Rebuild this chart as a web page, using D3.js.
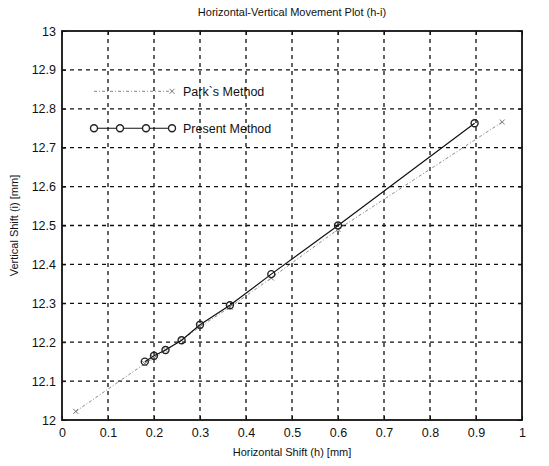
<!DOCTYPE html>
<html>
<head>
<meta charset="utf-8">
<script src="https://cdn.jsdelivr.net/npm/d3@7"></script>
<style>
  body { margin: 0; background: #fff; }
  text { font-family: "Liberation Sans", Arial, sans-serif; fill: #111; }
  .grid line { stroke: #111; stroke-width: 1.3; stroke-dasharray: 4 4; }
  .axis path, .axis line { stroke: #111; }
  .axis text { font-size: 12.5px; }
</style>
</head>
<body>
<svg id="chart"></svg>
<script>
// Present Method (circles, solid line)
const presentX = [0.18, 0.2, 0.225, 0.26, 0.3, 0.365, 0.455, 0.6, 0.897];
const presentY = [12.15, 12.165, 12.18, 12.205, 12.245, 12.295, 12.375, 12.5, 12.763];

// Park's Method (x markers, dotted grey line)
const parkX = [0.03, 0.18, 0.2, 0.225, 0.26, 0.3, 0.365, 0.455, 0.6, 0.957];
const parkY = [12.022, 12.145, 12.16, 12.18, 12.205, 12.24, 12.29, 12.365, 12.49, 12.766];

const xTicks = [0, 0.1, 0.2, 0.3, 0.4, 0.5, 0.6, 0.7, 0.8, 0.9, 1];
const yTicks = [12, 12.1, 12.2, 12.3, 12.4, 12.5, 12.6, 12.7, 12.8, 12.9, 13];

const seriesNames = ["Park`s Method", "Present Method"];

const width = 549, height = 466;
const margin = {top: 31, right: 27, bottom: 46, left: 62};
const w = width - margin.left - margin.right;
const h = height - margin.top - margin.bottom;

const svg = d3.select('#chart')
  .attr('width', width)
  .attr('height', height);

const chart = svg.append('g')
  .attr('transform', `translate(${margin.left},${margin.top})`);

const xScale = d3.scaleLinear().domain([0, 1]).range([0, w]);
const yScale = d3.scaleLinear().domain([12, 13]).range([h, 0]);

// gridlines
chart.append('g')
  .attr('class', 'grid')
  .selectAll('line')
  .data(xTicks.slice(1, -1))
  .join('line')
  .attr('x1', d => xScale(d)).attr('x2', d => xScale(d))
  .attr('y1', 0).attr('y2', h);

chart.append('g')
  .attr('class', 'grid')
  .selectAll('line')
  .data(yTicks.slice(1, -1))
  .join('line')
  .attr('y1', d => yScale(d)).attr('y2', d => yScale(d))
  .attr('x1', 0).attr('x2', w);

// axes
const xAxis = d3.axisBottom(xScale).tickValues(xTicks).tickSize(-4).tickPadding(8)
  .tickFormat(d => d3.format('~g')(d));
const yAxis = d3.axisLeft(yScale).tickValues(yTicks).tickSize(-4).tickPadding(6)
  .tickFormat(d => d3.format('~g')(d));

chart.append('g').attr('class', 'axis').attr('transform', `translate(0,${h})`).call(xAxis)
  .call(g => g.select('.domain').remove());
chart.append('g').attr('class', 'axis').call(yAxis)
  .call(g => g.select('.domain').remove());

// top/right ticks
chart.append('g').attr('class', 'axis').call(d3.axisTop(xScale).tickValues(xTicks).tickSize(-4).tickFormat(''))
  .call(g => g.select('.domain').remove());
chart.append('g').attr('class', 'axis').attr('transform', `translate(${w},0)`)
  .call(d3.axisRight(yScale).tickValues(yTicks).tickSize(-4).tickFormat(''))
  .call(g => g.select('.domain').remove());

// frame
chart.append('rect')
  .attr('width', w).attr('height', h)
  .attr('fill', 'none').attr('stroke', '#111').attr('stroke-width', 1.8);

const line = d3.line().x(d => xScale(d[0])).y(d => yScale(d[1]));

const parkData = parkX.map((x, i) => [x, parkY[i]]);
const presentData = presentX.map((x, i) => [x, presentY[i]]);

// Park's method
chart.append('path')
  .datum(parkData)
  .attr('d', line)
  .attr('fill', 'none')
  .attr('stroke', '#888')
  .attr('stroke-width', 1)
  .attr('stroke-dasharray', '3 2 1 2');

const cross = (g, x, y, s) => {
  g.append('path')
    .attr('d', `M${x - s},${y - s}L${x + s},${y + s}M${x - s},${y + s}L${x + s},${y - s}`)
    .attr('stroke', '#777').attr('stroke-width', 1);
};
parkData.forEach(d => cross(chart, xScale(d[0]), yScale(d[1]), 2.5));

// Present method
chart.append('path')
  .datum(presentData)
  .attr('d', line)
  .attr('fill', 'none')
  .attr('stroke', '#111')
  .attr('stroke-width', 1.2);

chart.selectAll('.pt')
  .data(presentData)
  .join('circle')
  .attr('class', 'pt')
  .attr('cx', d => xScale(d[0]))
  .attr('cy', d => yScale(d[1]))
  .attr('r', 3.5)
  .attr('fill', 'none')
  .attr('stroke', '#222')
  .attr('stroke-width', 1.4);

// legend
const leg = chart.append('g');
const legX0 = 32, legX1 = 110, textX = 121;
const y1 = yScale(12.845), y2 = yScale(12.75);

leg.append('line')
  .attr('x1', legX0).attr('x2', legX1).attr('y1', y1).attr('y2', y1)
  .attr('stroke', '#888').attr('stroke-width', 1).attr('stroke-dasharray', '3 2 1 2');
cross(leg, legX1, y1, 2.5);
leg.append('text').attr('x', textX).attr('y', y1).attr('dy', '0.35em')
  .style('font-size', '12.5px').text(seriesNames[0]);

leg.append('line')
  .attr('x1', legX0).attr('x2', legX1).attr('y1', y2).attr('y2', y2)
  .attr('stroke', '#111').attr('stroke-width', 1.2);
leg.selectAll('.lc')
  .data([legX0, legX0 + 26, legX0 + 52, legX1])
  .join('circle')
  .attr('class', 'lc')
  .attr('cx', d => d).attr('cy', y2).attr('r', 3.5)
  .attr('fill', '#fff').attr('stroke', '#222').attr('stroke-width', 1.4);
leg.append('text').attr('x', textX).attr('y', y2).attr('dy', '0.35em')
  .style('font-size', '12.5px').text(seriesNames[1]);

// titles
svg.append('text')
  .attr('x', margin.left + w / 2).attr('y', 16)
  .attr('text-anchor', 'middle')
  .style('font-size', '11px')
  .text('Horizontal-Vertical Movement Plot (h-i)');

svg.append('text')
  .attr('x', margin.left + w / 2).attr('y', height - 10)
  .attr('text-anchor', 'middle')
  .style('font-size', '11px')
  .text('Horizontal Shift (h) [mm]');

svg.append('text')
  .attr('transform', `translate(18,${margin.top + h / 2}) rotate(-90)`)
  .attr('text-anchor', 'middle')
  .style('font-size', '11px')
  .text('Vertical Shift (i) [mm]');
</script>
</body>
</html>
